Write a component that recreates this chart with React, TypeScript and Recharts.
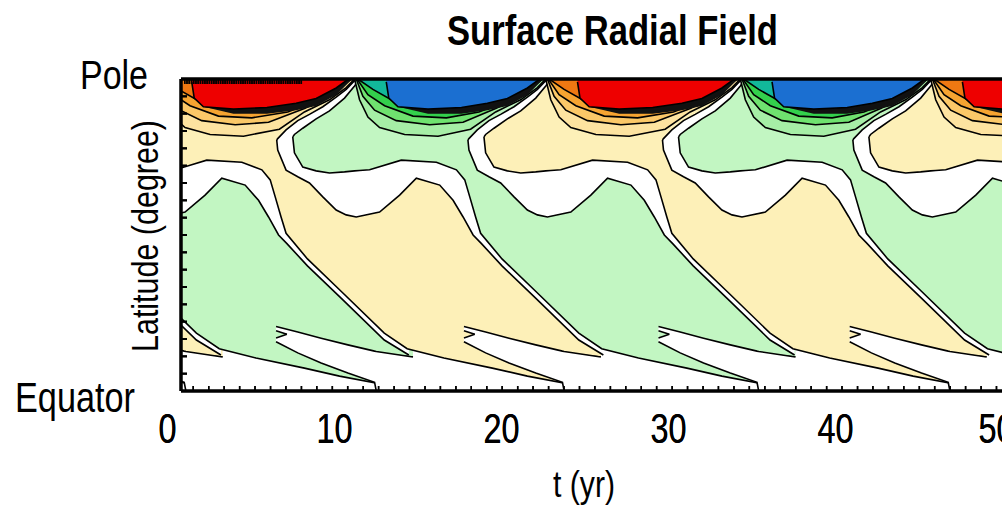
import React from "react";
import { ComposedChart, Area, XAxis, YAxis } from "recharts";

// [t (yr), lower latitude, upper latitude]
type Row = [number, number, number];
// [t (yr), lower latitude] – region reaches up to the pole
type Edge = [number, number];

const POLE = 90;

// ---- weak-field families (cream = positive, green = negative) ----
const fieldM2: Row[] = [[-1.1, 4.3, 90], [1.0, 2.4, 90], [1.05, 10.9, 90], [3.3, 9.8, 90]];
const tongueM2: Row[] = [[-0.6, 5.2, 13.3], [1.0, 2.5, 11.5], [1.1, 0, 11.4], [3.3, 0, 9.8]];

const whiteM1: Row[] = [[-0.84, 26.7, 90], [1.73, 14.7, 90], [3.2, 10.4, 90]];
const fieldM1: Row[] = [
  [-0.84, 28.7, 90], [1.73, 16.7, 90], [3.1, 12.2, 90], [5.3, 9.5, 90], [8.2, 6.6, 90],
  [10.3, 4.3, 90], [12.4, 2.4, 90], [12.45, 10.9, 90], [14.7, 9.8, 90],
];
const tongueM1: Row[] = [
  [6.5, 14.2, 18.6], [7.8, 11.0, 17.0], [9.2, 8.1, 15.2], [10.8, 5.2, 13.3],
  [12.4, 2.5, 11.5], [12.5, 0, 11.4], [14.7, 0, 9.8],
];
const notchM1: Row[] = [[6.5, 15.3, 17.4], [7.15, 16.35, 16.35]];

const white0: Row[] = [
  [-0.95, 50.8, 87.0], [-0.35, 50.2, 90], [1.05, 51.6, 90], [2.25, 56.5, 90], [3.25, 61.4, 90],
  [4.65, 59.4, 90], [5.45, 55.0, 90], [6.05, 50.2, 90], [6.65, 45.0, 90], [7.15, 42.5, 90],
  [8.38, 36.1, 90], [10.41, 26.7, 90], [12.98, 14.7, 90], [14.45, 10.4, 90],
];
const field0: Row[] = [
  [-0.45, 63.5, 88.0], [-0.15, 63.6, 90], [0.45, 63.8, 90], [2.35, 66.6, 90], [4.45, 66.0, 90],
  [5.65, 63.8, 90], [6.15, 60.9, 90], [6.45, 56.0, 90], [6.8, 50.2, 90], [7.1, 45.5, 90],
  [8.38, 38.1, 90], [10.41, 28.7, 90], [12.98, 16.7, 90], [14.35, 12.2, 90], [16.55, 9.5, 90],
  [19.45, 6.6, 90], [21.55, 4.3, 90], [23.65, 2.4, 90], [23.7, 10.9, 90], [25.95, 9.8, 90],
];
const tongue0: Row[] = [
  [17.75, 14.2, 18.6], [19.05, 11.0, 17.0], [20.45, 8.1, 15.2], [22.05, 5.2, 13.3],
  [23.65, 2.5, 11.5], [23.75, 0, 11.4], [25.95, 0, 9.8],
];
const notch0: Row[] = [[17.75, 15.3, 17.4], [18.4, 16.35, 16.35]];

const white1: Row[] = [
  [6.54, 72.4, 72.4], [6.6, 69.5, 72.8], [7.1, 63.7, 75.3], [7.8, 61.8, 78.0], [8.5, 60.0, 79.8],
  [9.3, 56.0, 82.0], [10.1, 52.2, 84.8], [10.7, 50.8, 87.0], [11.3, 50.2, 90], [12.7, 51.6, 90],
  [13.9, 56.5, 90], [14.9, 61.4, 90], [16.3, 59.4, 90], [17.1, 55.0, 90], [17.7, 50.2, 90],
  [18.3, 45.0, 90], [18.8, 42.5, 90], [20.03, 36.1, 90], [22.06, 26.7, 90], [24.63, 14.7, 90],
  [26.1, 10.4, 90],
];
const field1: Row[] = [
  [7.5, 73.3, 73.3], [7.6, 68.7, 74.0], [8.1, 64.6, 75.8], [8.9, 63.5, 78.5], [9.7, 62.9, 80.8],
  [10.6, 63.2, 84.5], [11.2, 63.5, 88.0], [11.5, 63.6, 90], [12.1, 63.8, 90], [14.0, 66.6, 90],
  [16.1, 66.0, 90], [17.3, 63.8, 90], [17.8, 60.9, 90], [18.1, 56.0, 90], [18.45, 50.2, 90],
  [18.75, 45.5, 90], [20.03, 38.1, 90], [22.06, 28.7, 90], [24.63, 16.7, 90], [26.0, 12.2, 90],
  [28.2, 9.5, 90], [31.1, 6.6, 90], [33.2, 4.3, 90], [35.3, 2.4, 90], [35.35, 10.9, 90],
  [37.6, 9.8, 90],
];
const tongue1: Row[] = [
  [29.4, 14.2, 18.6], [30.7, 11.0, 17.0], [32.1, 8.1, 15.2], [33.7, 5.2, 13.3],
  [35.3, 2.5, 11.5], [35.4, 0, 11.4], [37.6, 0, 9.8],
];
const notch1: Row[] = [[29.4, 15.3, 17.4], [30.05, 16.35, 16.35]];

const white2: Row[] = [
  [17.99, 72.4, 72.4], [18.05, 69.5, 72.8], [18.55, 63.7, 75.3], [19.25, 61.8, 78.0],
  [19.95, 60.0, 79.8], [20.75, 56.0, 82.0], [21.55, 52.2, 84.8], [22.15, 50.8, 87.0],
  [22.75, 50.2, 90], [24.15, 51.6, 90], [25.35, 56.5, 90], [26.35, 61.4, 90], [27.75, 59.4, 90],
  [28.55, 55.0, 90], [29.15, 50.2, 90], [29.75, 45.0, 90], [30.25, 42.5, 90], [31.48, 36.1, 90],
  [33.51, 26.7, 90], [36.08, 14.7, 90], [37.55, 10.4, 90],
];
const field2: Row[] = [
  [18.95, 73.3, 73.3], [19.05, 68.7, 74.0], [19.55, 64.6, 75.8], [20.35, 63.5, 78.5],
  [21.15, 62.9, 80.8], [22.05, 63.2, 84.5], [22.65, 63.5, 88.0], [22.95, 63.6, 90],
  [23.55, 63.8, 90], [25.45, 66.6, 90], [27.55, 66.0, 90], [28.75, 63.8, 90], [29.25, 60.9, 90],
  [29.55, 56.0, 90], [29.9, 50.2, 90], [30.2, 45.5, 90], [31.48, 38.1, 90], [33.51, 28.7, 90],
  [36.08, 16.7, 90], [37.45, 12.2, 90], [39.65, 9.5, 90], [42.55, 6.6, 90], [44.65, 4.3, 90],
  [46.75, 2.4, 90], [46.8, 10.9, 90], [49.05, 9.8, 90],
];
const tongue2: Row[] = [
  [40.85, 14.2, 18.6], [42.15, 11.0, 17.0], [43.55, 8.1, 15.2], [45.15, 5.2, 13.3],
  [46.75, 2.5, 11.5], [46.85, 0, 11.4], [49.05, 0, 9.8],
];
const notch2: Row[] = [[40.85, 15.3, 17.4], [41.5, 16.35, 16.35]];

const white3: Row[] = [
  [29.64, 72.4, 72.4], [29.7, 69.5, 72.8], [30.2, 63.7, 75.3], [30.9, 61.8, 78.0],
  [31.6, 60.0, 79.8], [32.4, 56.0, 82.0], [33.2, 52.2, 84.8], [33.8, 50.8, 87.0],
  [34.4, 50.2, 90], [35.8, 51.6, 90], [37.0, 56.5, 90], [38.0, 61.4, 90], [39.4, 59.4, 90],
  [40.2, 55.0, 90], [40.8, 50.2, 90], [41.4, 45.0, 90], [41.9, 42.5, 90], [43.13, 36.1, 90],
  [45.16, 26.7, 90], [47.73, 14.7, 90], [49.2, 10.4, 90],
];
const field3: Row[] = [
  [30.6, 73.3, 73.3], [30.7, 68.7, 74.0], [31.2, 64.6, 75.8], [32.0, 63.5, 78.5],
  [32.8, 62.9, 80.8], [33.7, 63.2, 84.5], [34.3, 63.5, 88.0], [34.6, 63.6, 90], [35.2, 63.8, 90],
  [37.1, 66.6, 90], [39.2, 66.0, 90], [40.4, 63.8, 90], [40.9, 60.9, 90], [41.2, 56.0, 90],
  [41.55, 50.2, 90], [41.85, 45.5, 90], [43.13, 38.1, 90], [45.16, 28.7, 90], [47.73, 16.7, 90],
  [49.1, 12.2, 90], [51.3, 9.5, 90],
];

const white4: Row[] = [
  [41.04, 72.4, 72.4], [41.1, 69.5, 72.8], [41.6, 63.7, 75.3], [42.3, 61.8, 78.0],
  [43.0, 60.0, 79.8], [43.8, 56.0, 82.0], [44.6, 52.2, 84.8], [45.2, 50.8, 87.0],
  [45.8, 50.2, 90], [47.2, 51.6, 90], [48.4, 56.5, 90], [49.4, 61.4, 90], [50.8, 59.4, 90],
];
const field4: Row[] = [
  [42.0, 73.3, 73.3], [42.1, 68.7, 74.0], [42.6, 64.6, 75.8], [43.4, 63.5, 78.5],
  [44.2, 62.9, 80.8], [45.1, 63.2, 84.5], [45.7, 63.5, 88.0], [46.0, 63.6, 90], [46.6, 63.8, 90],
  [48.5, 66.6, 90], [50.6, 66.0, 90],
];

// ---- polar contour bands (outer -> inner), dense zone and polar cap ----
const pale0: Edge[] = [[-0.45, 90], [-0.15, 84], [0.35, 79], [1.05, 76], [2.55, 74], [4.55, 73.5], [6.7, 75.5], [8.2, 80.5], [9.7, 84], [10.7, 87.5], [11.2, 90]];
const light0: Edge[] = [[-0.35, 90], [0.05, 85], [0.75, 81], [2.05, 78], [4.05, 76.8], [6.05, 77.5], [8.2, 81.5], [9.7, 85], [11.0, 90]];
const mid0: Edge[] = [[-0.3, 90], [0.35, 85.5], [1.35, 82.3], [3.05, 79.3], [5.05, 78.8], [7.2, 80.5], [8.9, 83.7], [10.3, 87], [10.9, 90]];
const deep0: Edge[] = [[-0.25, 90], [0.65, 87], [1.75, 84], [3.55, 80.8], [5.55, 80.5], [7.7, 82], [9.3, 85], [10.5, 88], [10.8, 90]];
const dense0: Row[] = [[2.15, 82, 82], [3.95, 80.0, 81.3], [5.95, 80.0, 81.8], [7.7, 81.0, 83.0], [8.9, 82.2, 84.4], [10.1, 85.4, 87.4], [10.7, 88.3, 89.5], [11.0, 89.7, 89.7]];
const cap0: Edge[] = [[1.45, 89.2], [1.6, 84.5], [2.15, 82], [3.95, 81.3], [5.95, 81.8], [7.7, 83.0], [8.9, 84.4], [10.1, 87.4], [10.7, 89.5], [10.9, 90]];

const pale1: Edge[] = [[11.2, 90], [11.5, 84], [12.0, 79], [12.7, 76], [14.2, 74], [16.2, 73.5], [18.15, 75.5], [19.65, 80.5], [21.15, 84], [22.15, 87.5], [22.65, 90]];
const light1: Edge[] = [[11.3, 90], [11.7, 85], [12.4, 81], [13.7, 78], [15.7, 76.8], [17.7, 77.5], [19.65, 81.5], [21.15, 85], [22.45, 90]];
const mid1: Edge[] = [[11.35, 90], [12.0, 85.5], [13.0, 82.3], [14.7, 79.3], [16.7, 78.8], [18.65, 80.5], [20.35, 83.7], [21.75, 87], [22.35, 90]];
const deep1: Edge[] = [[11.4, 90], [12.3, 87], [13.4, 84], [15.2, 80.8], [17.2, 80.5], [19.15, 82], [20.75, 85], [21.95, 88], [22.25, 90]];
const dense1: Row[] = [[13.8, 82, 82], [15.6, 80.0, 81.3], [17.6, 80.0, 81.8], [19.15, 81.0, 83.0], [20.35, 82.2, 84.4], [21.55, 85.4, 87.4], [22.15, 88.3, 89.5], [22.45, 89.7, 89.7]];
const cap1: Edge[] = [[13.1, 89.2], [13.25, 84.5], [13.8, 82], [15.6, 81.3], [17.6, 81.8], [19.15, 83.0], [20.35, 84.4], [21.55, 87.4], [22.15, 89.5], [22.35, 90]];

const pale2: Edge[] = [[22.65, 90], [22.95, 84], [23.45, 79], [24.15, 76], [25.65, 74], [27.65, 73.5], [29.8, 75.5], [31.3, 80.5], [32.8, 84], [33.8, 87.5], [34.3, 90]];
const light2: Edge[] = [[22.75, 90], [23.15, 85], [23.85, 81], [25.15, 78], [27.15, 76.8], [29.15, 77.5], [31.3, 81.5], [32.8, 85], [34.1, 90]];
const mid2: Edge[] = [[22.8, 90], [23.45, 85.5], [24.45, 82.3], [26.15, 79.3], [28.15, 78.8], [30.3, 80.5], [32.0, 83.7], [33.4, 87], [34.0, 90]];
const deep2: Edge[] = [[22.85, 90], [23.75, 87], [24.85, 84], [26.65, 80.8], [28.65, 80.5], [30.8, 82], [32.4, 85], [33.6, 88], [33.9, 90]];
const dense2: Row[] = [[25.25, 82, 82], [27.05, 80.0, 81.3], [29.05, 80.0, 81.8], [30.8, 81.0, 83.0], [32.0, 82.2, 84.4], [33.2, 85.4, 87.4], [33.8, 88.3, 89.5], [34.1, 89.7, 89.7]];
const cap2: Edge[] = [[24.55, 89.2], [24.7, 84.5], [25.25, 82], [27.05, 81.3], [29.05, 81.8], [30.8, 83.0], [32.0, 84.4], [33.2, 87.4], [33.8, 89.5], [34.0, 90]];

const pale3: Edge[] = [[34.3, 90], [34.6, 84], [35.1, 79], [35.8, 76], [37.3, 74], [39.3, 73.5], [41.2, 75.5], [42.7, 80.5], [44.2, 84], [45.2, 87.5], [45.7, 90]];
const light3: Edge[] = [[34.4, 90], [34.8, 85], [35.5, 81], [36.8, 78], [38.8, 76.8], [40.8, 77.5], [42.7, 81.5], [44.2, 85], [45.5, 90]];
const mid3: Edge[] = [[34.45, 90], [35.1, 85.5], [36.1, 82.3], [37.8, 79.3], [39.8, 78.8], [41.7, 80.5], [43.4, 83.7], [44.8, 87], [45.4, 90]];
const deep3: Edge[] = [[34.5, 90], [35.4, 87], [36.5, 84], [38.3, 80.8], [40.3, 80.5], [42.2, 82], [43.8, 85], [45.0, 88], [45.3, 90]];
const dense3: Row[] = [[36.9, 82, 82], [38.7, 80.0, 81.3], [40.7, 80.0, 81.8], [42.2, 81.0, 83.0], [43.4, 82.2, 84.4], [44.6, 85.4, 87.4], [45.2, 88.3, 89.5], [45.5, 89.7, 89.7]];
const cap3: Edge[] = [[36.2, 89.2], [36.35, 84.5], [36.9, 82], [38.7, 81.3], [40.7, 81.8], [42.2, 83.0], [43.4, 84.4], [44.6, 87.4], [45.2, 89.5], [45.4, 90]];

const pale4: Edge[] = [[45.7, 90], [46.0, 84], [46.5, 79], [47.2, 76], [48.7, 74], [50.7, 73.5]];
const light4: Edge[] = [[45.8, 90], [46.2, 85], [46.9, 81], [48.2, 78], [50.2, 76.8]];
const mid4: Edge[] = [[45.85, 90], [46.5, 85.5], [47.5, 82.3], [49.2, 79.3], [51.2, 78.8]];
const deep4: Edge[] = [[45.9, 90], [46.8, 87], [47.9, 84], [49.7, 80.8], [51.7, 80.5]];
const dense4: Row[] = [[48.3, 82, 82], [50.1, 80.0, 81.3]];
const cap4: Edge[] = [[47.6, 89.2], [47.75, 84.5], [48.3, 82], [50.1, 81.3]];

// ---- axes ----
const yearLabels = [0, 10, 20, 30, 40, 50];
const minorTicks = [
  1.54, 2.47, 3.39, 4.32, 5.24, 6.17, 7.09, 8.02, 8.94, 9.87, 10.79, 11.72, 12.64, 13.57, 14.49,
  15.42, 16.34, 17.27, 18.19, 19.12, 20.04, 20.97, 21.89, 22.82, 23.74, 24.67, 25.59, 26.52,
  27.44, 28.37, 29.29, 30.22, 31.14, 32.07, 32.99, 33.92, 34.84, 35.77, 36.69, 37.62, 38.54,
  39.47, 40.39, 41.32, 42.24, 43.17, 44.09, 45.02, 45.94, 46.87, 47.79, 48.72, 49.64,
];
const latTicks = [5, 10, 15, 20, 25, 30, 35, 40, 45, 50, 55, 60, 65, 70, 75, 80, 85];
const T_DOMAIN: [number, number] = [0.808, 50.15];

const WHITE = "#ffffff";
const CREAM = "#fdf0b8";
const GREEN = "#c2f6c2";
const POS = { pale: "#fde3a0", light: "#fbc868", mid: "#f6a431", deep: "#ee7812", cap: "#ee0000" };
const NEG = { pale: "#a6eea6", light: "#6fe26f", mid: "#33d04c", deep: "#12b89a", cap: "#1b6fd1" };
const DENSE = "#111111";
const FONT = "'Liberation Sans Narrow', 'Arial Narrow', 'Liberation Sans', Arial, sans-serif";

const toPole = (pts: Edge[]): Row[] => pts.map(([t, lo]) => [t, lo, POLE]);

type Layer = { key: string; pts: Row[]; fill: string; line?: boolean };

const bands = (k: string, c: typeof POS, pale: Edge[], light: Edge[], mid: Edge[], deep: Edge[], dense: Row[], cap: Edge[]): Layer[] => [
  { key: `pale${k}`, pts: toPole(pale), fill: c.pale },
  { key: `light${k}`, pts: toPole(light), fill: c.light },
  { key: `mid${k}`, pts: toPole(mid), fill: c.mid },
  { key: `deep${k}`, pts: toPole(deep), fill: c.deep },
  { key: `dense${k}`, pts: dense, fill: DENSE, line: false },
  { key: `cap${k}`, pts: toPole(cap), fill: c.cap },
];

const layers: Layer[] = [
  { key: "fM2", pts: fieldM2, fill: CREAM },
  { key: "tM2", pts: tongueM2, fill: WHITE },
  { key: "wM1", pts: whiteM1, fill: WHITE },
  { key: "fM1", pts: fieldM1, fill: GREEN },
  { key: "tM1", pts: tongueM1, fill: WHITE },
  { key: "nM1", pts: notchM1, fill: GREEN },
  { key: "w0", pts: white0, fill: WHITE },
  { key: "f0", pts: field0, fill: CREAM },
  { key: "t0", pts: tongue0, fill: WHITE },
  { key: "n0", pts: notch0, fill: CREAM },
  { key: "w1", pts: white1, fill: WHITE },
  { key: "f1", pts: field1, fill: GREEN },
  { key: "t1", pts: tongue1, fill: WHITE },
  { key: "n1", pts: notch1, fill: GREEN },
  { key: "w2", pts: white2, fill: WHITE },
  { key: "f2", pts: field2, fill: CREAM },
  { key: "t2", pts: tongue2, fill: WHITE },
  { key: "n2", pts: notch2, fill: CREAM },
  { key: "w3", pts: white3, fill: WHITE },
  { key: "f3", pts: field3, fill: GREEN },
  { key: "w4", pts: white4, fill: WHITE },
  { key: "f4", pts: field4, fill: CREAM },
  ...bands("0", POS, pale0, light0, mid0, deep0, dense0, cap0),
  ...bands("1", NEG, pale1, light1, mid1, deep1, dense1, cap1),
  ...bands("2", POS, pale2, light2, mid2, deep2, dense2, cap2),
  ...bands("3", NEG, pale3, light3, mid3, deep3, dense3, cap3),
  ...bands("4", POS, pale4, light4, mid4, deep4, dense4, cap4),
];

// one table keyed by time; each region only has values at its own knots
const rowsByT = new Map<number, any>();
layers.forEach(({ key, pts }) => {
  pts.forEach(([t, lo, hi]) => {
    const row = rowsByT.get(t) ?? { t };
    row[key] = [lo, hi];
    rowsByT.set(t, row);
  });
});
const data = Array.from(rowsByT.values()).sort((a, b) => a.t - b.t);

const BottomTick = ({ x, y, payload }: any) =>
  yearLabels.includes(payload.value) ? (
    <text x={payload.value === 50 ? x - 6 : x} y={y + 52} textAnchor="middle" fontSize={42} fontFamily={FONT} fill="#000"
      textLength={payload.value === 0 ? 18 : 36} lengthAdjust="spacingAndGlyphs">
      {payload.value}
    </text>
  ) : (
    <line x1={x} x2={x} y1={y} y2={y - 5} stroke="#000" strokeWidth={1.5} />
  );

const TopTick = ({ x, y }: any) => <line x1={x} x2={x} y1={y} y2={y + 5} stroke="#000" strokeWidth={1.5} />;
const LeftTick = ({ x, y }: any) => <line x1={x} x2={x + 6} y1={y} y2={y} stroke="#000" strokeWidth={2} />;

const CHART = { width: 1010, height: 509, margin: { top: 78, right: 5, bottom: 0, left: 180 } };
const FRAME = { stroke: "#000", strokeWidth: 3 };

// the same axes in both charts; the overlay copy keeps the frame above the filled regions
const axes = () => [
  <XAxis
    key="xb"
    dataKey="t"
    type="number"
    domain={T_DOMAIN}
    allowDataOverflow
    ticks={[...yearLabels, ...minorTicks].sort((a, b) => a - b)}
    interval={0}
    tick={BottomTick}
    tickLine={false}
    tickSize={0}
    tickMargin={0}
    height={118}
    axisLine={FRAME}
  />,
  <XAxis
    key="xt"
    xAxisId="top"
    orientation="top"
    type="number"
    domain={T_DOMAIN}
    allowDataOverflow
    ticks={minorTicks}
    interval={0}
    tick={TopTick}
    tickLine={false}
    tickSize={0}
    tickMargin={0}
    height={1}
    axisLine={FRAME}
  />,
  <YAxis
    key="yl"
    type="number"
    domain={[0, 90]}
    allowDataOverflow
    ticks={latTicks}
    interval={0}
    tick={LeftTick}
    tickLine={false}
    tickSize={0}
    tickMargin={0}
    width={1}
    axisLine={FRAME}
  />,
];

export default function App() {
  return (
    <div style={{ position: "absolute", left: 0, top: 0, width: 1002, height: 509, overflow: "hidden", background: "#fff" }}>
      <div style={{ position: "absolute", left: 0, top: 0 }}>
        <ComposedChart {...CHART} data={data}>
          {layers.map((l) => (
            <Area
              key={l.key}
              dataKey={l.key}
              type="linear"
              connectNulls
              fill={l.fill}
              fillOpacity={1}
              stroke={l.line === false ? "none" : "#000"}
              strokeWidth={1.6}
              dot={false}
              activeDot={false}
              isAnimationActive={false}
            />
          ))}
          {axes()}
        </ComposedChart>
      </div>
      <div style={{ position: "absolute", left: 0, top: 0, pointerEvents: "none" }}>
        <ComposedChart {...CHART} data={data}>
          {axes()}
        </ComposedChart>
      </div>
      <svg width={1002} height={509} style={{ position: "absolute", left: 0, top: 0, pointerEvents: "none" }}>
        <g fontFamily={FONT} fill="#000">
          <text x={447} y={45} fontSize={42} fontWeight="bold" textLength={331} lengthAdjust="spacingAndGlyphs">
            Surface Radial Field
          </text>
          <text x={80} y={89} fontSize={40} textLength={68} lengthAdjust="spacingAndGlyphs">Pole</text>
          <text x={15} y={412} fontSize={42} textLength={120} lengthAdjust="spacingAndGlyphs">Equator</text>
          <text x={158} y={352} fontSize={37} textLength={232} lengthAdjust="spacingAndGlyphs" transform="rotate(-90 158 352)">
            Latitude (degree)
          </text>
          <text x={553} y={497} fontSize={37} textLength={62} lengthAdjust="spacingAndGlyphs">t (yr)</text>
        </g>
      </svg>
    </div>
  );
}
